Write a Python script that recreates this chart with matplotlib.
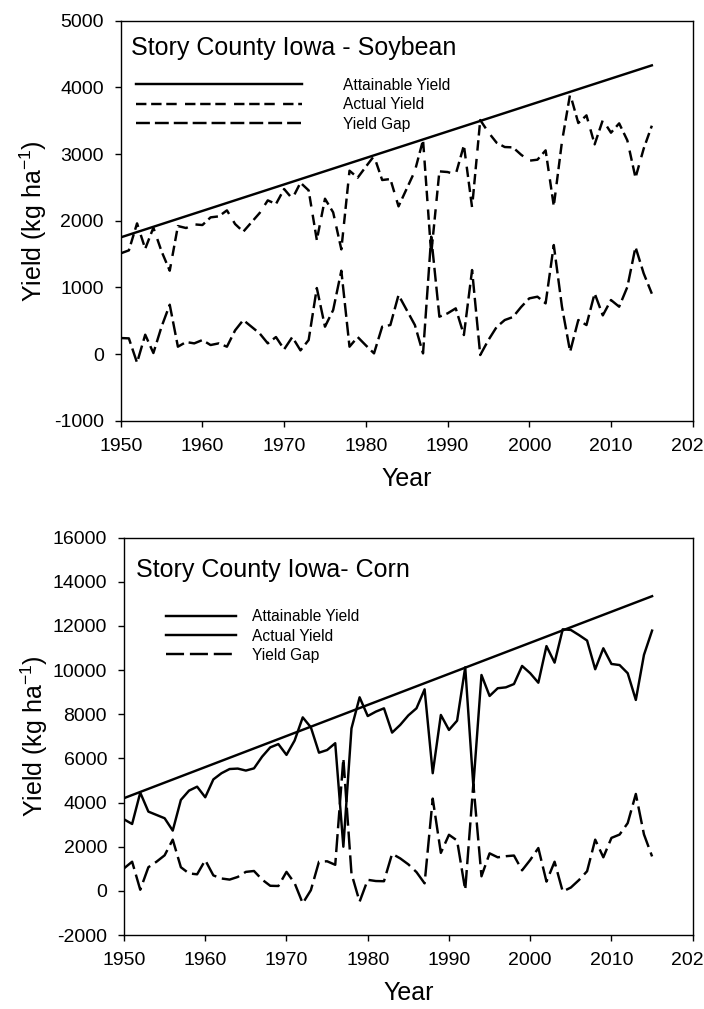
import matplotlib
matplotlib.use("Agg")
import matplotlib.pyplot as plt
import numpy as np

# ---------------- data ----------------
years = list(range(1950, 2016))

soy_attain_years = [1950, 2015]
soy_attain = [1750, 4330]
soy_actual = [1510, 1555, 1960, 1580, 1895, 1540, 1250, 1920, 1890, 1945,
              1935, 2050, 2065, 2155, 1950, 1835, 1975, 2115, 2305, 2250,
              2475, 2330, 2570, 2455, 1710, 2330, 2125, 1570, 2750, 2645,
              2810, 2970, 2610, 2625, 2215, 2480, 2745, 3210, 1500, 2740,
              2730, 2695, 3130, 2200, 3510, 3325, 3170, 3105, 3100, 2990,
              2900, 2915, 3055, 2220, 3185, 3900, 3465, 3580, 3145, 3510,
              3320, 3460, 3205, 2645, 3080, 3425]
soy_gap = [240, 235, -130, 290, 15, 410, 740, 110, 180, 160,
           210, 135, 160, 110, 355, 510, 410, 310, 160, 255,
           70, 255, 55, 210, 990, 410, 660, 1250, 110, 255,
           130, 10, 410, 435, 885, 660, 435, 10, 1760, 560,
           610, 685, 285, 1260, -15, 210, 405, 510, 555, 705,
           835, 860, 760, 1635, 710, 35, 510, 435, 910, 580,
           810, 710, 1005, 1605, 1210, 905]

corn_attain_years = [1950, 2015]
corn_attain = [4200, 13350]
corn_actual = [3240, 3030, 4450, 3590, 3440, 3290, 2730, 4120, 4540, 4720,
               4240, 5050, 5330, 5520, 5540, 5450, 5550, 6080, 6500, 6650,
               6160, 6810, 7860, 7410, 6260, 6380, 6690, 2000, 7360, 8770,
               7920, 8120, 8270, 7170, 7520, 7950, 8270, 9130, 5330, 7970,
               7290, 7710, 10130, 4750, 9780, 8830, 9180, 9220, 9370, 10190,
               9860, 9430, 11090, 10340, 11850, 11820, 11590, 11340, 10040, 10990,
               10280, 10230, 9860, 8650, 10690, 11790]
corn_gap = [1020, 1320, 50, 1070, 1320, 1610, 2320, 1070, 790, 750,
            1390, 700, 560, 510, 630, 860, 900, 510, 230, 220,
            860, 350, -565, 30, 1320, 1340, 1180, 6000, 780, -490,
            500, 445, 436, 1680, 1470, 1200, 850, 340, 4180, 1720,
            2540, 2280, 40, 4850, 660, 1700, 1520, 1570, 1600, 930,
            1400, 1940, 420, 1320, -30, 150, 490, 890, 2320, 1520,
            2400, 2550, 3070, 4390, 2560, 1560]

xticks = [1950, 1960, 1970, 1980, 1990, 2000, 2010, 2020]
soy_yticks = [-1000, 0, 1000, 2000, 3000, 4000, 5000]
corn_yticks = [-2000, 0, 2000, 4000, 6000, 8000, 10000, 12000, 14000, 16000]

# ---------------- style ----------------
plt.rcParams['font.family'] = ['Liberation Sans', 'DejaVu Sans']
plt.rcParams['mathtext.default'] = 'regular'
plt.rcParams['axes.unicode_minus'] = False
plt.rcParams['lines.scale_dashes'] = False

W, H = 704, 1009
fig = plt.figure(figsize=(W / 100, H / 100), dpi=100)

def px_axes(l, t, r, b):
    return fig.add_axes([l / W, 1 - b / H, (r - l) / W, (b - t) / H])

ax1 = px_axes(120.7, 20.7, 692.7, 420.7)
ax2 = px_axes(124.0, 537.7, 692.7, 935.0)

lw = 1.75
soy_actual_dash = (0, (7.5, 3.4, 7.5, 3.4, 7.5, 6.0))
soy_gap_dash = (0, (10.0, 3.6))
corn_gap_dash = (0, (13.0, 4.2))

# Soybean
ax1.plot(soy_attain_years, soy_attain, color='black', lw=lw, label='Attainable Yield')
ax1.plot(years, soy_actual, color='black', lw=lw, linestyle=soy_actual_dash, label='Actual Yield')
ax1.plot(years, soy_gap, color='black', lw=lw, linestyle=soy_gap_dash, label='Yield Gap')
ax1.set_ylim(-1000, 5000)
ax1.set_yticks(soy_yticks)
ax1.text(0.0175, 0.914, 'Story County Iowa - Soybean', transform=ax1.transAxes,
         fontsize=18, ha='left', va='baseline')
leg1 = ax1.legend(loc='upper left', bbox_to_anchor=(0.0262, 0.857), frameon=False,
                  fontsize=11.2, handlelength=10.7, handletextpad=2.65,
                  labelspacing=0.28, borderpad=0, borderaxespad=0)

# Corn
ax2.plot(corn_attain_years, corn_attain, color='black', lw=lw, label='Attainable Yield')
ax2.plot(years, corn_actual, color='black', lw=lw, label='Actual Yield')
ax2.plot(years, corn_gap, color='black', lw=lw, linestyle=corn_gap_dash, label='Yield Gap')
ax2.set_ylim(-2000, 16000)
ax2.set_yticks(corn_yticks)
ax2.text(0.0206, 0.901, 'Story County Iowa- Corn', transform=ax2.transAxes,
         fontsize=18, ha='left', va='baseline')
leg2 = ax2.legend(loc='upper left', bbox_to_anchor=(0.0733, 0.82), frameon=False,
                  fontsize=11.2, handlelength=4.5, handletextpad=1.08,
                  labelspacing=0.28, borderpad=0, borderaxespad=0)

for ax, lx in ((ax1, -0.125), (ax2, -0.131)):
    ax.set_xlim(1950, 2020)
    ax.set_xticks(xticks)
    ax.tick_params(axis='both', which='both', direction='out', length=4.2, width=1.0,
                   labelsize=14, pad=8, top=False, right=False)
    for s in ax.spines.values():
        s.set_linewidth(1.0)
        s.set_color('black')
    ax.set_xlabel('Year', fontsize=18)
    ax.set_ylabel('Yield (kg ha$^{-1}$)', fontsize=18)
    ax.yaxis.set_label_coords(lx, 0.5)
    ax.xaxis.set_label_coords(0.5, -0.115)

fig.savefig('out.png', dpi=100)
